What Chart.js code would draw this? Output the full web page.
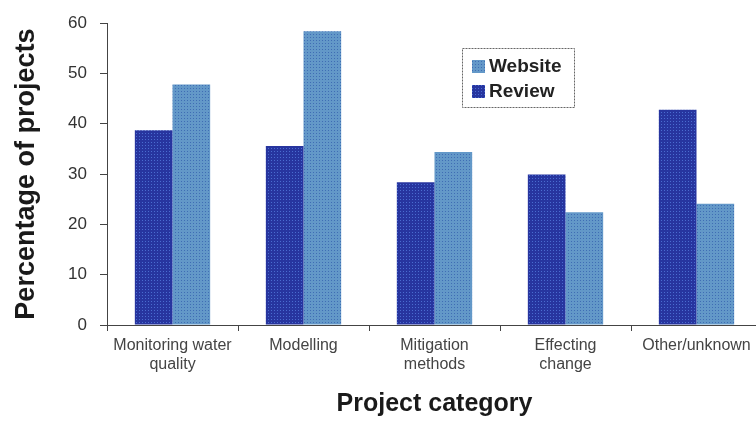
<!DOCTYPE html>
<html>
<head>
<meta charset="utf-8">
<script src="https://cdn.jsdelivr.net/npm/chart.js@4/dist/chart.umd.min.js"></script>
<style>
    html, body { margin: 0; padding: 0; background: #fff; overflow: hidden; }
    #wrap { width: 762px; height: 423px; }
</style>
</head>
<body>
<div id="wrap"><canvas id="chart"></canvas></div>
<script>
const categories = [['Monitoring water', 'quality'], 'Modelling', ['Mitigation', 'methods'], ['Effecting', 'change'], 'Other/unknown'];
const reviewValues = [38.7, 35.6, 28.4, 29.9, 42.8];
const websiteValues = [47.8, 58.4, 34.4, 22.4, 24.1];
const yTickValues = [0, 10, 20, 30, 40, 50, 60];

function dotPattern(base, dot) {
    const c = document.createElement('canvas');
    c.width = 3;
    c.height = 3;
    const g = c.getContext('2d');
    g.fillStyle = base;
    g.fillRect(0, 0, 3, 3);
    g.fillStyle = dot;
    g.fillRect(1, 1, 1, 1);
    return g.createPattern(c, 'repeat');
}

const darkFill = dotPattern('#27359f', '#4a6cd0');
const lightFill = dotPattern('#6398c8', '#3f6db4');

// legend drawn inside the plot, Website first like the original
const boxLegend = {
    id: 'boxLegend',
    afterDraw(chart) {
        const ctx = chart.ctx;
        const sets = chart.data.datasets.slice().reverse();
        const x = 462, y = 48, w = 112, h = 59;
        ctx.save();
        ctx.strokeStyle = '#666';
        ctx.lineWidth = 1;
        ctx.setLineDash([2, 1]);
        ctx.strokeRect(x + 0.5, y + 0.5, w, h);
        ctx.setLineDash([]);
        ctx.font = 'bold 19px "Liberation Sans", Arial, sans-serif';
        ctx.textBaseline = 'middle';
        sets.forEach((ds, i) => {
            const cy = 66 + i * 25;
            ctx.fillStyle = ds.backgroundColor;
            ctx.fillRect(x + 10, cy - 6, 13, 13);
            ctx.fillStyle = '#222';
            ctx.fillText(ds.label, x + 27, cy + 1);
        });
        ctx.restore();
    }
};

new Chart(document.getElementById('chart'), {
    type: 'bar',
    data: {
        labels: categories,
        datasets: [
            {label: 'Review', data: reviewValues, backgroundColor: darkFill, categoryPercentage: 0.575, barPercentage: 1},
            {label: 'Website', data: websiteValues, backgroundColor: lightFill, categoryPercentage: 0.575, barPercentage: 1}
        ]
    },
    options: {
        responsive: true,
        maintainAspectRatio: false,
        animation: false,
        layout: {padding: {top: 19, left: 0, right: 0, bottom: 0}},
        plugins: {
            legend: {display: false},
            tooltip: {enabled: false}
        },
        scales: {
            x: {
                afterFit: scale => { scale.height = 98; },
                grid: {display: true, drawOnChartArea: false, drawTicks: true, tickLength: 6, color: '#444', offset: true},
                border: {display: true, color: '#444', width: 1, dash: [2, 1]},
                ticks: {
                    color: '#444',
                    padding: 5,
                    maxRotation: 0,
                    font: {family: '"Liberation Sans", Arial, sans-serif', size: 16, lineHeight: 1.19}
                },
                title: {
                    display: true,
                    text: 'Project category',
                    color: '#1a1a1a',
                    padding: {top: 0, bottom: 4},
                    font: {family: '"Liberation Sans", Arial, sans-serif', size: 25, weight: 'bold', lineHeight: 1.2}
                }
            },
            y: {
                min: 0,
                max: 60,
                afterFit: scale => { scale.width = 107; },
                afterBuildTicks: scale => { scale.ticks = yTickValues.map(v => ({value: v})); },
                grid: {display: true, drawOnChartArea: false, drawTicks: true, tickLength: 7, color: '#444'},
                border: {display: true, color: '#444', width: 1, dash: [2, 1]},
                ticks: {
                    color: '#333',
                    padding: 13,
                    font: {family: '"Liberation Sans", Arial, sans-serif', size: 17}
                },
                title: {
                    display: true,
                    text: 'Percentage of projects',
                    color: '#1a1a1a',
                    padding: {top: 10, bottom: 0},
                    font: {family: '"Liberation Sans", Arial, sans-serif', size: 27, weight: 'bold', lineHeight: 1.2}
                }
            }
        }
    },
    plugins: [boxLegend]
});
</script>
</body>
</html>
